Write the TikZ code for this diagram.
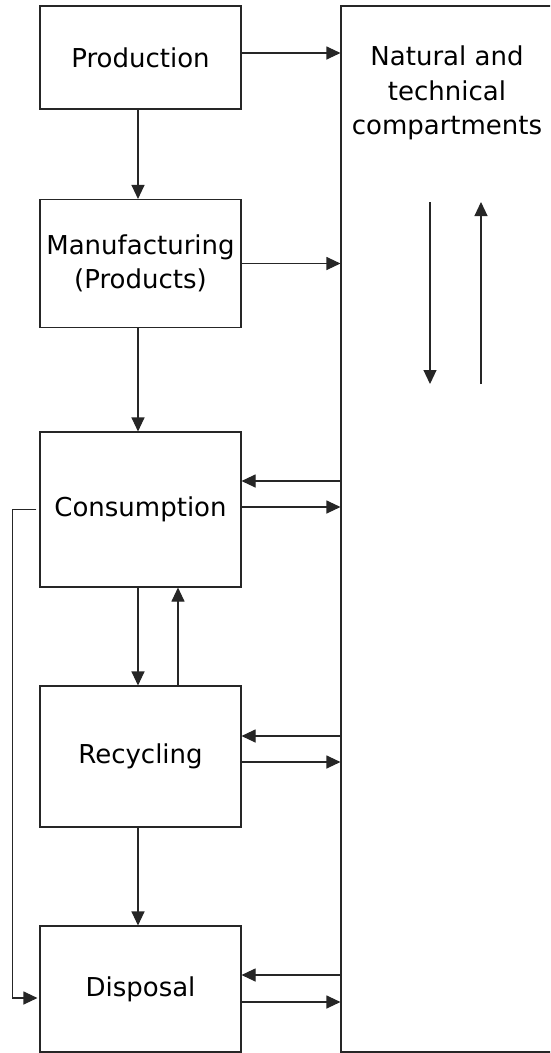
\documentclass[tikz,border=0pt]{standalone}
\usepackage{fontspec}
\setmainfont{DejaVu Sans}
\usetikzlibrary{arrows.meta,calc}
\begin{document}
\begin{tikzpicture}[x=1pt,y=-1pt,
  box/.style={draw=black!85,line width=1.1pt,rectangle,minimum width=201pt,inner sep=0pt,align=center,font=\fontsize{26}{34}\selectfont},
  arr/.style={line width=1.1pt,draw=black!85,-{Triangle[length=14pt,width=13pt]}},
  ln/.style={line width=1.1pt,draw=black!85}]
\useasboundingbox (0,0) rectangle (550,1053);
\clip (0,0) rectangle (550,1053);
\fill[white] (0,0) rectangle (550,1053);
% boxes
\node[box,minimum height=103pt] (prod) at (140.5,57.5) {Production};
\node[box,minimum height=128pt] (manuf) at (140.5,263.5) {Manufacturing\\(Products)};
\node[box,minimum height=155pt] (cons) at (140.5,509.5) {Consumption};
\node[box,minimum height=141pt] (recy) at (140.5,756.5) {Recycling};
\node[box,minimum height=126pt] (disp) at (140.5,989) {Disposal};
\node[box,minimum width=212pt,minimum height=1046pt] (nat) at (447,529) {};
\node[align=center,inner sep=0pt,font=\fontsize{26}{34.5}\selectfont] (natlabel) at (447,93) {Natural and\\technical\\compartments};
% horizontal connectors to/from nat
\coordinate (p1) at ([yshift=4.5pt]prod.east);
\draw[arr] (p1) -- (p1 -| nat.west);
\draw[arr] (manuf.east) -- (manuf.east -| nat.west);
\coordinate (c1) at ([yshift=28.5pt]cons.east);
\coordinate (c2) at ([yshift=2.5pt]cons.east);
\draw[arr] (c1 -| nat.west) -- (c1);
\draw[arr] (c2) -- (c2 -| nat.west);
\coordinate (r1) at ([yshift=20.5pt]recy.east);
\coordinate (r2) at ([yshift=-5.5pt]recy.east);
\draw[arr] (r1 -| nat.west) -- (r1);
\draw[arr] (r2) -- (r2 -| nat.west);
\coordinate (d1) at ([yshift=14pt]disp.east);
\coordinate (d2) at ([yshift=-13pt]disp.east);
\draw[arr] (d1 -| nat.west) -- (d1);
\draw[arr] (d2) -- (d2 -| nat.west);
% vertical connectors
\coordinate (v1) at ([xshift=-2.5pt]prod.south);
\draw[arr] (v1) -- (v1 |- manuf.north);
\coordinate (v2) at ([xshift=-2.5pt]manuf.south);
\draw[arr] (v2) -- (v2 |- cons.north);
\coordinate (v3) at ([xshift=-2.5pt]cons.south);
\draw[arr] (v3) -- (v3 |- recy.north);
\coordinate (v4) at ([xshift=37.5pt]recy.north);
\draw[arr] (v4) -- (v4 |- cons.south);
\coordinate (v5) at ([xshift=-2.5pt]recy.south);
\draw[arr] (v5) -- (v5 |- disp.north);
% feedback consumption -> disposal
\coordinate (fb1) at ([xshift=-3pt]cons.west);
\coordinate (fb2) at ([xshift=-2pt,yshift=-9pt]disp.west);
\draw[arr] (fb1) -- ++(-24,0) |- (fb2);
% inner arrows in nat
\coordinate (in1) at (430,202);
\coordinate (in2) at (430,384);
\coordinate (in3) at (481,384);
\coordinate (in4) at (481,202);
\draw[arr] (in1) -- (in2);
\draw[arr] (in3) -- (in4);
\end{tikzpicture}
\end{document}
